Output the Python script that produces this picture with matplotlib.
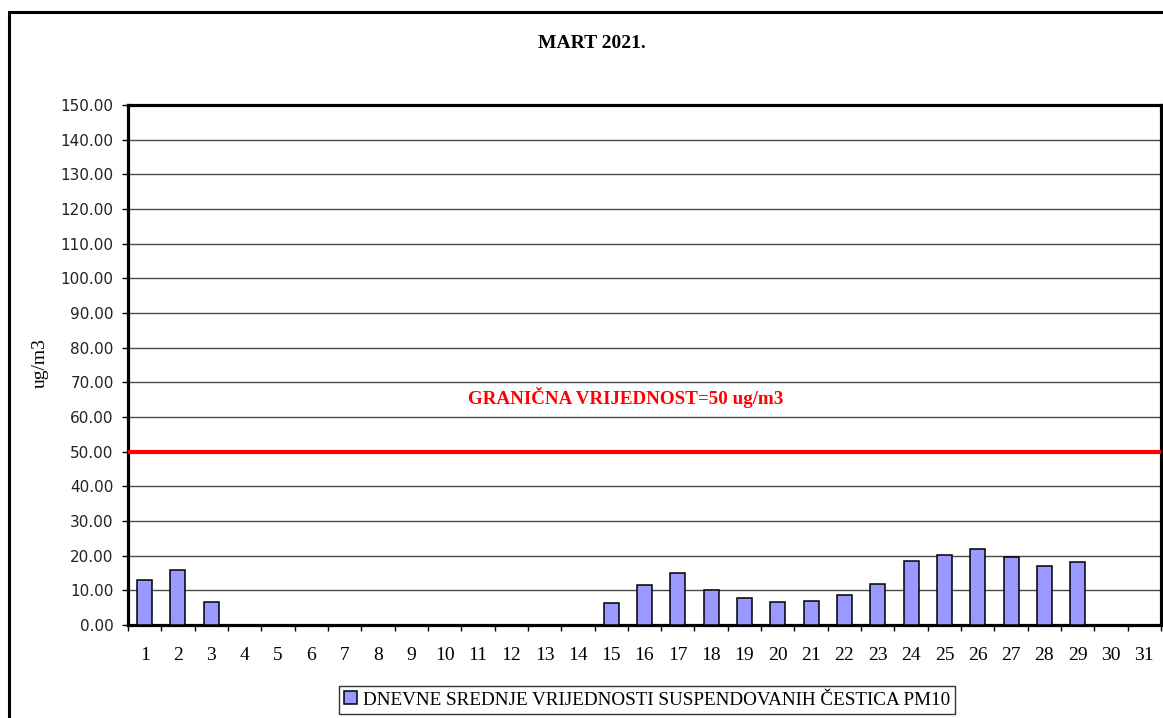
"""PM10 daily means, March 2021 - bar chart with limit line."""
import matplotlib
matplotlib.use("Agg")
import matplotlib.pyplot as plt
from matplotlib.patches import Rectangle

TITLE = "MART 2021."
Y_LABEL = "ug/m3"
LIMIT = 50
LIMIT_LABEL = "GRANIČNA VRIJEDNOST=50 ug/m3"
SERIES_LABEL = "DNEVNE SREDNJE VRIJEDNOSTI SUSPENDOVANIH ČESTICA PM10"

days = list(range(1, 32))
# None = no measurement that day
pm10 = [12.9, 16.0, 6.6, None, None, None, None, None, None, None,
        None, None, None, None, 6.3, 11.5, 15.0, 10.0, 7.7, 6.6,
        7.0, 8.6, 11.8, 18.5, 20.3, 21.9, 19.6, 17.1, 18.2, None, None]
y_ticks = list(range(0, 151, 10))

SERIF = "Liberation Serif"
SANS = "DejaVu Sans"
BAR_COLOR = "#9999FF"

W, H = 1163, 718
fig = plt.figure(figsize=(W / 100, H / 100), dpi=100)
fig.patch.set_facecolor("white")

# outer chart-area frame (right/bottom edges fall outside the image)
fig.patches.append(Rectangle((8.5 / W, -0.2), 1.3, 1 - 12 / H + 0.2,
                             transform=fig.transFigure, fill=False,
                             ec="black", lw=2.2, zorder=0))

ax = fig.add_axes([128 / W, 93 / H, 1033 / W, 520 / H])

xs = [d for d, v in zip(days, pm10) if v is not None]
vs = [v for v in pm10 if v is not None]
bars = ax.bar(xs, vs, width=0.45, color=BAR_COLOR, edgecolor="black",
              linewidth=1.1, zorder=3, label=SERIES_LABEL)

ax.axhline(LIMIT, color="#FF0000", lw=3.0, zorder=4)
ax.text(0.4816, 0.437, LIMIT_LABEL, transform=ax.transAxes, ha="center",
        va="center", color="#FF0000", fontweight="bold", family=SERIF,
        fontsize=13.7)

ax.set_xlim(0.5, 31.5)
ax.set_ylim(0, 150)
ax.set_yticks(y_ticks)
ax.set_yticklabels([f"{t:.2f}" for t in y_ticks], family=SANS, fontsize=11,
                   color="#222222")
ax.yaxis.grid(True, color="#4a4a4a", lw=1.0, zorder=0)
ax.set_axisbelow(True)

ax.set_xticks(days)
ax.set_xticklabels([str(d) for d in days], family=SERIF, fontsize=14)
ax.set_xticks([d + 0.5 for d in range(0, 32)], minor=True)
ax.tick_params(axis="x", which="major", length=0, pad=15.5)
ax.tick_params(axis="x", which="minor", length=4.5, width=1.0,
               direction="out")
ax.tick_params(axis="y", length=4.3, width=1.0, direction="out", pad=6)

for sp in ax.spines.values():
    sp.set_linewidth(2.3)
    sp.set_color("black")

fig.text(591.5 / W, 1 - 43 / H, TITLE, ha="center", va="center",
         family=SERIF, fontweight="bold", fontsize=14)
fig.text(40 / W, 1 - 363 / H, Y_LABEL, ha="center", va="center",
         rotation=90, family=SERIF, fontsize=14)

leg = fig.legend(handles=[bars], labels=[SERIES_LABEL], loc="center",
                 bbox_to_anchor=(647 / W, 1 - 700 / H), frameon=True,
                 fancybox=False, prop={"family": SERIF, "size": 13.8},
                 handlelength=0.65, handleheight=0.65, handletextpad=0.3,
                 borderpad=0.3, borderaxespad=0)
leg.get_frame().set_edgecolor("black")
leg.get_frame().set_linewidth(1.0)

fig.savefig("out.png", dpi=100)
